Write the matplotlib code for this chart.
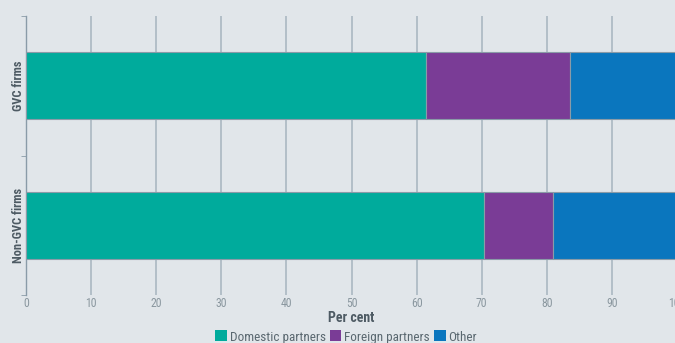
import matplotlib
matplotlib.use("Agg")
import matplotlib.pyplot as plt
from matplotlib import font_manager
import numpy as np

categories = ["GVC firms", "Non-GVC firms"]
domestic = [61.4, 70.3]
foreign = [22.2, 10.6]
other = [16.4, 19.1]
series_names = ["Domestic partners", "Foreign partners", "Other"]
colors = ["#00ab9c", "#7a3c96", "#0a76be"]
xticks = [0, 10, 20, 30, 40, 50, 60, 70, 80, 90, 100]

# pick a condensed font if one is installed
names = {f.name for f in font_manager.fontManager.ttflist}
condensed = None
for cand in ["Roboto Condensed", "Liberation Sans Narrow", "Open Sans Condensed", "Arial Narrow"]:
    if cand in names:
        condensed = cand
        break
if condensed:
    plt.rcParams['font.family'] = [condensed, 'DejaVu Sans']
    s_tick, s_lab, s_leg, s_cat = 8.5, 10, 9.5, 9
else:
    plt.rcParams['font.family'] = ['Liberation Sans', 'DejaVu Sans']
    s_tick, s_lab, s_leg, s_cat = 7.5, 9, 8.5, 8

bg = "#e1e6ea"
fig = plt.figure(figsize=(6.75, 3.43), dpi=100, facecolor=bg)
ax = fig.add_axes([26/675, 1-295/343, 651/675, (295-16)/343], facecolor=bg)

y = np.arange(len(categories))
left = np.zeros(len(categories))
for vals, name, c in zip([domestic, foreign, other], series_names, colors):
    ax.barh(y, vals, left=left, height=0.48, color=c, edgecolor="#8a9ba8",
            linewidth=0.8, label=name, zorder=3)
    left += np.array(vals)

ax.set_xlim(0, 100)
ax.set_ylim(1.5, -0.5)
ax.set_xticks(xticks)
ax.set_xticklabels([str(t) for t in xticks])
ax.set_yticks(y)
ax.set_yticklabels(categories, rotation=90, va="center", fontsize=s_cat,
                   fontweight="bold", color="#4d5a63")
ax.set_yticks([-0.5, 0.5, 1.5], minor=True)
ax.tick_params(axis="y", which="major", length=0, pad=1)
ax.tick_params(axis="y", which="minor", length=3.6, color="#8a9ba8", direction="out")
ax.tick_params(axis="x", length=0, pad=1.5, labelsize=s_tick, labelcolor="#8a979f")
ax.grid(axis="x", color="#aab8c2", linewidth=1.2, zorder=0)
for s in ["top", "right", "bottom"]:
    ax.spines[s].set_visible(False)
ax.spines["left"].set_color("#8a9ba8")
ax.spines["left"].set_linewidth(1.0)

ax.set_xlabel("Per cent", fontsize=s_lab, fontweight="bold", color="#4d5a63", labelpad=1)

leg = fig.legend(loc="center", bbox_to_anchor=(346/675, 1-337/343), ncol=3, frameon=False,
                 fontsize=s_leg, handlelength=0.9, handleheight=0.9, handletextpad=0.2,
                 columnspacing=0.3, labelcolor="#5a6870", borderpad=0, borderaxespad=0)
for h in leg.legend_handles:
    h.set_edgecolor("none")

fig.savefig("out.png", dpi=100, facecolor=bg)
